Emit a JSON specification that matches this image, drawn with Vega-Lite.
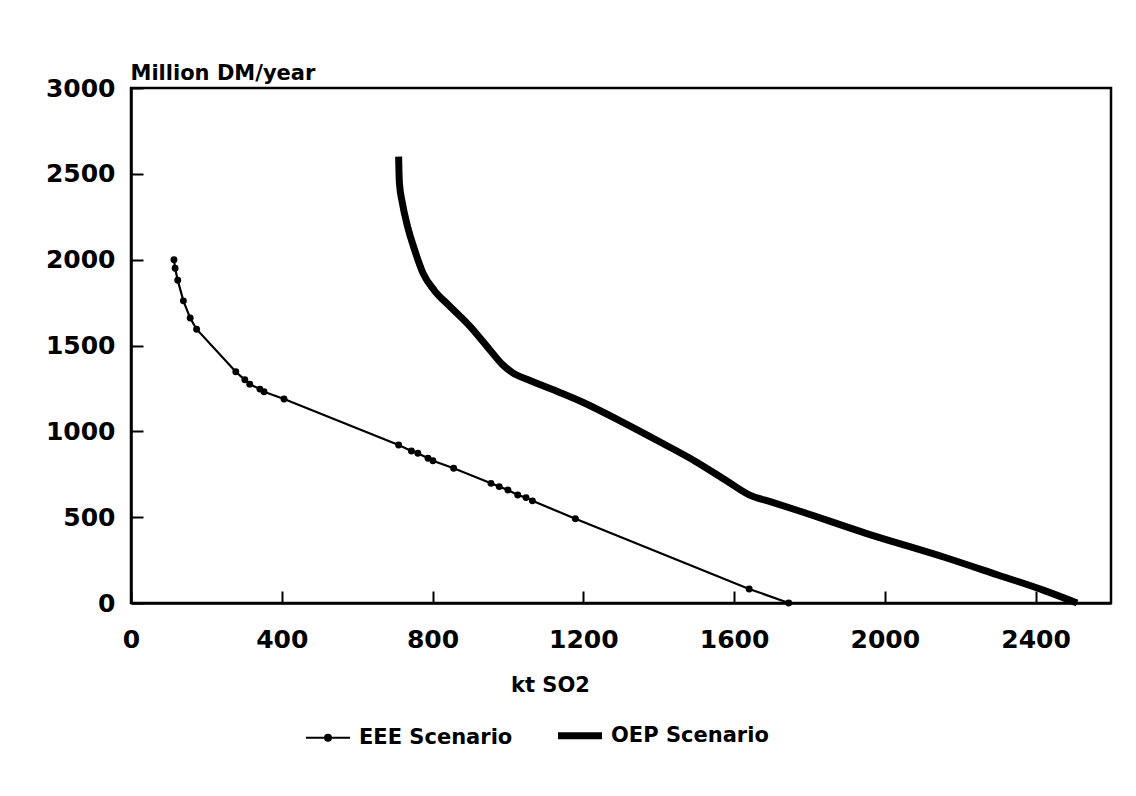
{
  "$schema": "https://vega.github.io/schema/vega-lite/v6.json",
  "width": 980,
  "height": 515,
  "autosize": "none",
  "padding": {"left": 131, "top": 88, "right": 25, "bottom": 193},
  "background": "white",
  "config": {
    "font": "DejaVu Sans",
    "view": {"stroke": "black", "strokeWidth": 2.5},
    "axis": {
      "domainColor": "black", "domainWidth": 2.5,
      "tickColor": "black", "tickWidth": 2,
      "grid": false, "labelFlush": false,
      "labelFont": "DejaVu Sans", "labelFontWeight": "bold", "labelFontSize": 25, "labelColor": "black",
      "titleFont": "DejaVu Sans", "titleFontWeight": "bold", "titleFontSize": 21, "titleColor": "black"
    }
  },
  "data": {"values": [
    {"series": "EEE Scenario", "x": 114, "y": 2000},
    {"series": "EEE Scenario", "x": 117, "y": 1950},
    {"series": "EEE Scenario", "x": 124, "y": 1880},
    {"series": "EEE Scenario", "x": 139, "y": 1760},
    {"series": "EEE Scenario", "x": 157, "y": 1660},
    {"series": "EEE Scenario", "x": 174, "y": 1595},
    {"series": "EEE Scenario", "x": 278, "y": 1347},
    {"series": "EEE Scenario", "x": 302, "y": 1300},
    {"series": "EEE Scenario", "x": 315, "y": 1275},
    {"series": "EEE Scenario", "x": 342, "y": 1246},
    {"series": "EEE Scenario", "x": 353, "y": 1231},
    {"series": "EEE Scenario", "x": 406, "y": 1188},
    {"series": "EEE Scenario", "x": 710, "y": 920},
    {"series": "EEE Scenario", "x": 744, "y": 885},
    {"series": "EEE Scenario", "x": 761, "y": 872},
    {"series": "EEE Scenario", "x": 788, "y": 843},
    {"series": "EEE Scenario", "x": 801, "y": 829},
    {"series": "EEE Scenario", "x": 856, "y": 785},
    {"series": "EEE Scenario", "x": 955, "y": 697},
    {"series": "EEE Scenario", "x": 977, "y": 678},
    {"series": "EEE Scenario", "x": 1000, "y": 658},
    {"series": "EEE Scenario", "x": 1026, "y": 629},
    {"series": "EEE Scenario", "x": 1048, "y": 614},
    {"series": "EEE Scenario", "x": 1065, "y": 595},
    {"series": "EEE Scenario", "x": 1179, "y": 491},
    {"series": "EEE Scenario", "x": 1640, "y": 82},
    {"series": "EEE Scenario", "x": 1745, "y": 0},
    {"series": "OEP Scenario", "x": 710, "y": 2600},
    {"series": "OEP Scenario", "x": 712, "y": 2450},
    {"series": "OEP Scenario", "x": 720, "y": 2330},
    {"series": "OEP Scenario", "x": 733, "y": 2200},
    {"series": "OEP Scenario", "x": 752, "y": 2060},
    {"series": "OEP Scenario", "x": 775, "y": 1920},
    {"series": "OEP Scenario", "x": 805, "y": 1820},
    {"series": "OEP Scenario", "x": 845, "y": 1730},
    {"series": "OEP Scenario", "x": 900, "y": 1610},
    {"series": "OEP Scenario", "x": 950, "y": 1480},
    {"series": "OEP Scenario", "x": 985, "y": 1390},
    {"series": "OEP Scenario", "x": 1010, "y": 1345},
    {"series": "OEP Scenario", "x": 1060, "y": 1295},
    {"series": "OEP Scenario", "x": 1136, "y": 1228},
    {"series": "OEP Scenario", "x": 1200, "y": 1168},
    {"series": "OEP Scenario", "x": 1300, "y": 1058},
    {"series": "OEP Scenario", "x": 1400, "y": 942},
    {"series": "OEP Scenario", "x": 1500, "y": 822},
    {"series": "OEP Scenario", "x": 1580, "y": 712},
    {"series": "OEP Scenario", "x": 1640, "y": 630},
    {"series": "OEP Scenario", "x": 1700, "y": 588},
    {"series": "OEP Scenario", "x": 1765, "y": 542},
    {"series": "OEP Scenario", "x": 1950, "y": 406},
    {"series": "OEP Scenario", "x": 2160, "y": 265},
    {"series": "OEP Scenario", "x": 2300, "y": 163},
    {"series": "OEP Scenario", "x": 2420, "y": 75},
    {"series": "OEP Scenario", "x": 2510, "y": 0}
  ]},
  "resolve": {"axis": {"x": "independent", "y": "independent"}},
  "layer": [
    {
      "transform": [{"filter": "datum.series === 'OEP Scenario'"}],
      "mark": {"type": "line", "interpolate": "monotone", "strokeWidth": 7, "strokeCap": "butt"},
      "encoding": {
        "x": {"field": "x", "type": "quantitative",
          "scale": {"domain": [0, 2600], "nice": false},
          "axis": {"values": [0, 400, 800, 1200, 1600, 2000, 2400], "format": "d", "ticks": false, "tickSize": 0,
            "labelPadding": 24, "labelBaseline": "top",
            "title": "kt SO2", "titleX": 419, "titleY": 88, "titleBaseline": "alphabetic", "titleAlign": "center"}},
        "y": {"field": "y", "type": "quantitative",
          "scale": {"domain": [0, 3000], "nice": false},
          "axis": {"values": [0, 500, 1000, 1500, 2000, 2500, 3000], "format": "d", "ticks": false, "tickSize": 0,
            "labelPadding": 16,
            "title": "Million DM/year", "titleAngle": 0, "titleX": -1, "titleY": -9, "titleAlign": "left", "titleBaseline": "alphabetic"}},
        "color": {"field": "series", "type": "nominal",
          "scale": {"domain": ["EEE Scenario", "OEP Scenario"], "range": ["black", "black"]},
          "legend": {
            "title": null, "orient": "none", "legendX": 186.5, "legendY": 637, "direction": "horizontal",
            "symbolType": "stroke", "symbolSize": 1936, "symbolStrokeColor": "black",
            "labelFont": "DejaVu Sans", "labelFontWeight": "bold", "labelFontSize": 21, "labelColor": "black",
            "labelOffset": 20.5, "columnPadding": 31,
            "encode": {"symbols": {"update": {
              "shape": {"signal": "datum.value === 'EEE Scenario' ? 'M-1,0H1M-0.13,0A0.13,0.13 0 1,0 0.13,0A0.13,0.13 0 1,0 -0.13,0Z' : 'stroke'"},
              "strokeWidth": {"signal": "datum.value === 'EEE Scenario' ? 2.2 : 7"},
              "fill": {"value": "black"},
              "stroke": {"value": "black"}
            }}}
          }}
      }
    },
    {
      "transform": [{"filter": "datum.series === 'EEE Scenario'"}],
      "mark": {"type": "line", "strokeWidth": 2.2},
      "encoding": {
        "x": {"field": "x", "type": "quantitative",
          "axis": {"orient": "top", "offset": -515, "values": [0, 400, 800, 1200, 1600, 2000, 2400],
            "labels": false, "domain": false, "ticks": true, "tickSize": 12, "tickWidth": 2, "title": null}},
        "y": {"field": "y", "type": "quantitative",
          "axis": {"orient": "right", "offset": -980, "values": [0, 500, 1000, 1500, 2000, 2500, 3000],
            "labels": false, "domain": false, "ticks": true, "tickSize": 12, "tickWidth": 2, "title": null}},
        "color": {"field": "series", "type": "nominal"}
      }
    },
    {
      "transform": [{"filter": "datum.series === 'EEE Scenario'"}],
      "mark": {"type": "point", "filled": true, "size": 48, "opacity": 1, "color": "black"},
      "encoding": {
        "x": {"field": "x", "type": "quantitative", "axis": null},
        "y": {"field": "y", "type": "quantitative", "axis": null}
      }
    }
  ]
}
